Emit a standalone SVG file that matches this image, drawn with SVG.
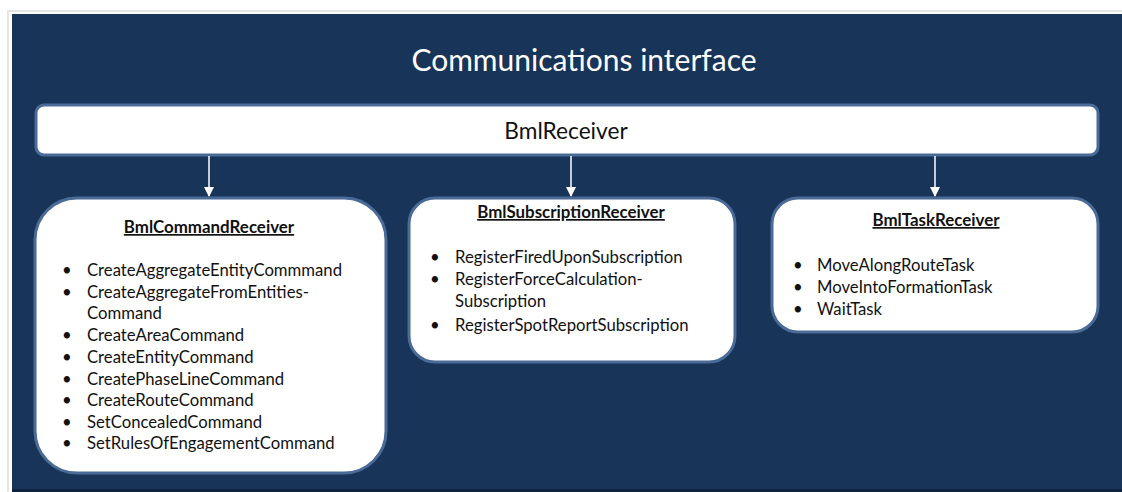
<svg xmlns="http://www.w3.org/2000/svg" width="1122" height="492" viewBox="0 0 1122 492">
  <style>
    .panel { fill: #183459; }
    .box { fill: #ffffff; stroke: #4a6b97; stroke-width: 3; }
    .title { font-family: Lato, "Open Sans", sans-serif; font-size: 30px; fill: #ffffff; }
    .main { font-family: Lato, "Open Sans", sans-serif; font-size: 22.7px; fill: #111111; }
    .head { font-family: Lato, "Open Sans", sans-serif; font-size: 16.9px; font-weight: bold; fill: #111111; text-decoration: underline; }
    .item { font-family: Lato, "Open Sans", sans-serif; font-size: 16.7px; fill: #111111; }
    .link { stroke: #ffffff; stroke-width: 1.5; fill: none; }
  </style>
  <defs>
    <marker id="head" viewBox="0 0 10 10" refX="9" refY="5" markerWidth="10" markerHeight="10" markerUnits="userSpaceOnUse" orient="auto">
      <path d="M0,0 L10,5 L0,10 z" fill="#ffffff"/>
    </marker>
  </defs>

  <!-- page background and frame -->
  <rect x="0" y="0" width="1122" height="492" fill="#ffffff"/>
  <rect x="7" y="10" width="1115" height="482" fill="#e6e6e6"/>
  <rect x="9" y="12" width="1113" height="480" fill="#ffffff"/>
  <rect class="panel" x="12" y="14" width="1110" height="476"/>
  <rect x="12" y="489" width="1110" height="3" fill="#10243f"/>

  <text class="title" x="584" y="71" text-anchor="middle">Communications interface</text>

  <g id="bml-receiver">
    <rect class="box" x="36" y="105" width="1062" height="50" rx="8"/>
    <text class="main" x="566" y="139" text-anchor="middle">BmlReceiver</text>
  </g>

  <g id="connectors">
    <line class="link" x1="209" y1="156" x2="209" y2="196" marker-end="url(#head)"/>
    <line class="link" x1="571" y1="156" x2="571" y2="196" marker-end="url(#head)"/>
    <line class="link" x1="935" y1="156" x2="935" y2="196" marker-end="url(#head)"/>
  </g>

  <g id="bml-command-receiver">
    <rect class="box" x="35" y="198" width="351" height="275" rx="42"/>
    <text class="head" x="209" y="233" text-anchor="middle">BmlCommandReceiver</text>
    <g class="item">
      <text x="62" y="276">•</text><text x="87" y="276">CreateAggregateEntityCommmand</text>
      <text x="62" y="298">•</text><text x="87" y="298">CreateAggregateFromEntities-</text>
      <text x="87" y="319">Command</text>
      <text x="62" y="341">•</text><text x="87" y="341">CreateAreaCommand</text>
      <text x="62" y="363">•</text><text x="87" y="363">CreateEntityCommand</text>
      <text x="62" y="385">•</text><text x="87" y="385">CreatePhaseLineCommand</text>
      <text x="62" y="406">•</text><text x="87" y="406">CreateRouteCommand</text>
      <text x="62" y="428">•</text><text x="87" y="428">SetConcealedCommand</text>
      <text x="62" y="449">•</text><text x="87" y="449">SetRulesOfEngagementCommand</text>
    </g>
  </g>

  <g id="bml-subscription-receiver">
    <rect class="box" x="409" y="198" width="326" height="164" rx="26"/>
    <text class="head" x="571" y="218" text-anchor="middle">BmlSubscriptionReceiver</text>
    <g class="item">
      <text x="430" y="263">•</text><text x="455" y="263">RegisterFiredUponSubscription</text>
      <text x="430" y="285">•</text><text x="455" y="285">RegisterForceCalculation-</text>
      <text x="455" y="307">Subscription</text>
      <text x="430" y="331">•</text><text x="455" y="331">RegisterSpotReportSubscription</text>
    </g>
  </g>

  <g id="bml-task-receiver">
    <rect class="box" x="772" y="198" width="326" height="134" rx="26"/>
    <text class="head" x="936" y="226" text-anchor="middle">BmlTaskReceiver</text>
    <g class="item">
      <text x="793" y="271">•</text><text x="817" y="271">MoveAlongRouteTask</text>
      <text x="793" y="293">•</text><text x="817" y="293">MoveIntoFormationTask</text>
      <text x="793" y="315">•</text><text x="817" y="315">WaitTask</text>
    </g>
  </g>
</svg>
